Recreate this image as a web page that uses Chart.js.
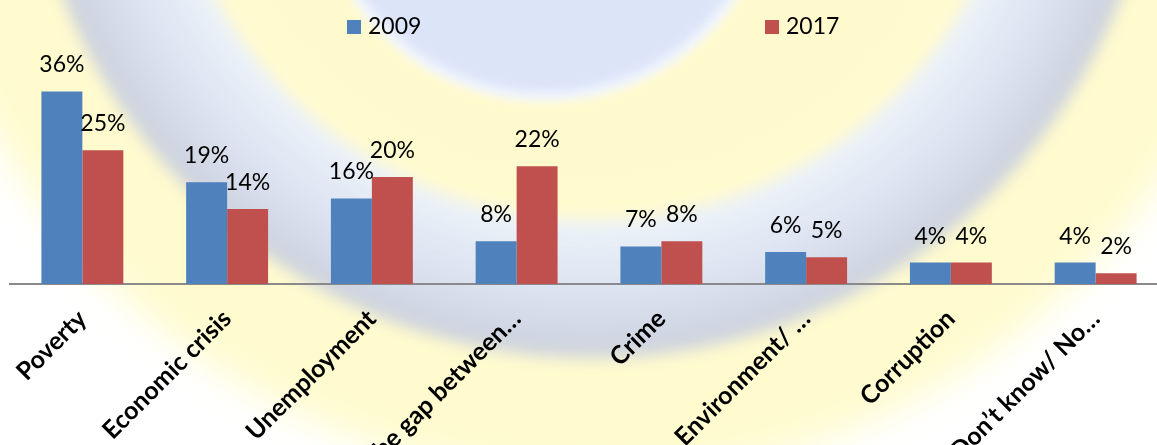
<!DOCTYPE html>
<html>
<head>
<meta charset="utf-8">
<script src="https://cdn.jsdelivr.net/npm/chart.js@4/dist/chart.umd.min.js"></script>
<style>
  html, body { margin: 0; padding: 0; overflow: hidden; background: #fff; }
  #wrap { width: 1170px; height: 445px; }
</style>
</head>
<body>
<div id="wrap"><canvas id="issuesChart" width="1170" height="445"></canvas></div>
<script>
// categories and values (percent)
const categories = ['Poverty', 'Economic crisis', 'Unemployment', 'The gap between\u2026', 'Crime', 'Environment/ \u2026', 'Corruption', 'Don\u2019t know/ No\u2026'];
const years = ['2009', '2017'];
const values2009 = [36, 19, 16, 8, 7, 6, 4, 4];
const values2017 = [25, 14, 20, 22, 8, 5, 4, 2];

const blue = '#4f81bd';
const red = '#c0504d';

function ring(ctx, cx, cy, r1, r2, color) {
    ctx.beginPath();
    ctx.arc(cx, cy, r2, 0, Math.PI * 2);
    if (r1 > 0) ctx.arc(cx, cy, r1, 0, Math.PI * 2, true);
    ctx.fillStyle = color;
    ctx.fill('evenodd');
}

// faded watermark behind the chart
const watermark = {
    id: 'watermark',
    beforeDraw(chart) {
        const ctx = chart.ctx;
        ctx.save();
        ctx.fillStyle = '#ffffff';
        ctx.fillRect(0, 0, chart.width, chart.height);
        ctx.filter = 'blur(18px)';
        ring(ctx, 592, -210, 0, 690, 'rgba(255,247,160,0.5)');
        ctx.filter = 'blur(8px)';
        let g = ctx.createRadialGradient(592, -210, 420, 592, -210, 570);
        g.addColorStop(0, 'rgba(238,244,255,0.9)');
        g.addColorStop(0.55, 'rgba(218,225,242,0.95)');
        g.addColorStop(1, 'rgba(200,205,220,0.95)');
        ring(ctx, 592, -210, 430, 568, g);
        ring(ctx, 592, -210, 0, 400, 'rgba(255,250,205,0.8)');
        ctx.filter = 'blur(5px)';
        ring(ctx, 545, -130, 0, 232, 'rgba(242,246,253,1)');
        ring(ctx, 545, -130, 0, 222, 'rgba(220,228,248,1)');
        ctx.restore();
    }
};

// percent labels above bars
const valueLabels = {
    id: 'valueLabels',
    afterDatasetsDraw(chart) {
        const ctx = chart.ctx;
        ctx.save();
        ctx.font = '23px Lato';
        ctx.fillStyle = '#000';
        ctx.textAlign = 'center';
        ctx.textBaseline = 'bottom';
        chart.data.datasets.forEach((ds, i) => {
            chart.getDatasetMeta(i).data.forEach((bar, j) => {
                ctx.fillText(ds.data[j] + '%', bar.x, bar.y - 15);
            });
        });
        ctx.restore();
    }
};

// legend spread out like the original
const spreadLegend = {
    id: 'spreadLegend',
    afterDraw(chart) {
        const ctx = chart.ctx;
        const xs = [347, 765];
        ctx.save();
        ctx.font = '23px Lato';
        ctx.textBaseline = 'middle';
        ctx.textAlign = 'left';
        chart.data.datasets.forEach((ds, i) => {
            ctx.fillStyle = ds.backgroundColor;
            ctx.fillRect(xs[i], 20, 14, 14);
            ctx.fillStyle = '#000';
            ctx.fillText(ds.label, xs[i] + 21, 27);
        });
        ctx.restore();
    }
};

const ctx = document.getElementById('issuesChart').getContext('2d');
const chart = new Chart(ctx, {
    type: 'bar',
    data: {
        labels: categories,
        datasets: [
            { label: years[0], data: values2009, backgroundColor: blue },
            { label: years[1], data: values2017, backgroundColor: red }
        ]
    },
    options: {
        responsive: false,
        animation: false,
        layout: { padding: { left: 10, right: 2, top: 70, bottom: 0 } },
        datasets: { bar: { barPercentage: 1, categoryPercentage: 0.566 } },
        plugins: { legend: { display: false }, tooltip: { enabled: false } },
        scales: {
            x: {
                grid: { display: false },
                border: { display: true, color: '#8a8a8a', width: 2 },
                ticks: {
                    autoSkip: false,
                    minRotation: 45,
                    maxRotation: 45,
                    padding: 12,
                    color: '#000',
                    font: { family: 'Lato', size: 25, weight: 'bold' }
                },
                afterFit(scale) { scale.height = 161; }
            },
            y: {
                display: false,
                min: 0,
                max: 40
            }
        }
    },
    plugins: [watermark, valueLabels, spreadLegend]
});
</script>
</body>
</html>
